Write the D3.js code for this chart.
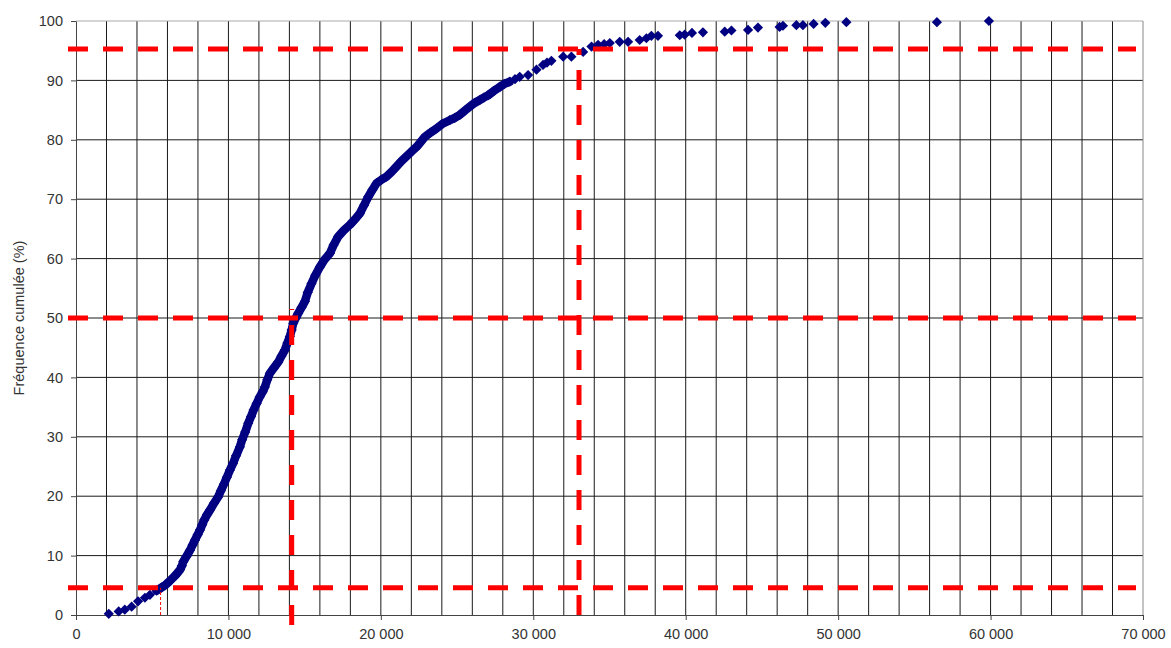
<!DOCTYPE html>
<html><head><meta charset="utf-8">
<script src="https://cdn.jsdelivr.net/npm/d3@7"></script>
<style>body{margin:0;background:#fff}svg{display:block}text{font-family:"Liberation Sans",Arial,sans-serif}</style>
</head><body>
<svg id="c" width="1171" height="648"></svg>
<script>
// Data (x = value, y = cumulative frequency %)
const xValues = [2150,2800,3200,3650,4070,4520,4850,5290,5600,5840,6100,6380,6600,6820,6950,7040,7250,7480,7650,7800,7980,8130,8280,8410,8600,8800,9050,9330,9500,9700,9900,10100,10300,10500,10750,10900,11100,11300,11480,11650,11850,12050,12250,12390,12550,12720,12980,13270,13480,13700,13870,14030,14150,14250,14420,14580,14800,15020,15200,15450,15700,16000,16300,16660,16900,17200,17550,17970,18300,18620,18900,19170,19450,19720,20050,20370,20700,21030,21350,21680,22000,22340,22600,22890,23250,23650,24050,24520,24850,25180,25500,25840,26150,26490,26750,27040,27400,27800,28100,28460,28800,29110,29660,30210,30640,30900,31190,31960,32500,33270,33820,34250,34650,35020,35670,36220,36980,37420,37750,38180,39610,39930,40410,41130,42560,43000,44090,44740,46160,46380,47260,47690,48390,49160,50540,56480,59890];
const yValues = [0.2,0.6,0.9,1.4,2.3,2.9,3.4,4.1,4.6,5.0,5.6,6.3,6.9,7.6,8.3,9.0,9.9,10.9,11.8,12.6,13.5,14.3,15.2,16.0,16.9,17.7,18.8,19.9,20.9,22.0,23.2,24.4,25.5,26.8,28.3,29.5,30.8,32.3,33.4,34.5,35.6,36.7,37.6,38.4,39.6,40.7,41.6,42.6,43.6,44.6,45.8,46.9,48.0,49.1,50.0,50.8,51.8,52.8,54.3,55.8,57.2,58.6,59.8,60.9,62.3,63.7,64.7,65.7,66.6,67.6,69.0,70.4,71.6,72.7,73.3,73.8,74.6,75.5,76.4,77.2,78.0,78.8,79.6,80.5,81.2,81.9,82.7,83.3,83.7,84.2,84.9,85.6,86.2,86.7,87.1,87.5,88.2,88.9,89.4,89.8,90.2,90.6,90.9,91.8,92.6,93.0,93.3,94.0,94.0,94.8,95.7,96.0,96.1,96.3,96.5,96.5,96.8,97.1,97.5,97.5,97.6,97.7,98.0,98.1,98.2,98.4,98.5,98.9,99.0,99.2,99.3,99.3,99.5,99.7,99.8,99.8,100];
const xTicks = [0,10000,20000,30000,40000,50000,60000,70000];
const yTicks = [0,10,20,30,40,50,60,70,80,90,100];
const refLevels = [4.6, 50, 95.3];          // horizontal dashed reference levels (%)
const refValues = [14150, 33000];          // vertical dashed reference values
const refValueTops = [51.5, 95.3];
const lowRefValue = 5550;                  // thin dashed marker at the 4.6 % level
const yLabel = "Fréquence cumulée (%)";

const svg = d3.select("#c");
const L = 76, R = 1143, T = 21, B = 615;
const x = d3.scaleLinear().domain([0,70000]).range([L,R]);
const y = d3.scaleLinear().domain([0,100]).range([B,T]);
const fmt = v => d3.format(",")(v).replace(/,/g," ");
const FS = 14.5;

// vertical gridlines every 2000
const vgrid = d3.range(2000, 70000, 2000);
svg.append("g").selectAll("line").data(vgrid).join("line")
  .attr("x1", d=>x(d)).attr("x2", d=>x(d)).attr("y1", T).attr("y2", B)
  .attr("stroke", "#1a1a1a").attr("stroke-width", 1);
// horizontal gridlines
svg.append("g").selectAll("line").data(yTicks.filter(d=>d>0 && d<100)).join("line")
  .attr("x1", L).attr("x2", R).attr("y1", d=>y(d)).attr("y2", d=>y(d))
  .attr("stroke", "#1a1a1a").attr("stroke-width", 1);
// plot border top & right
svg.append("line").attr("x1",L).attr("x2",R).attr("y1",y(100)).attr("y2",y(100)).attr("stroke","#aaa");
svg.append("line").attr("x1",R).attr("x2",R).attr("y1",T).attr("y2",B).attr("stroke","#888");

// axes
const xAxis = d3.axisBottom(x).tickValues(xTicks).tickFormat(fmt).tickSize(5).tickSizeOuter(0);
const gx = svg.append("g").attr("transform",`translate(0,${B})`).call(xAxis);
gx.select(".domain").attr("stroke","#444");
gx.selectAll(".tick line").attr("stroke","#444");
gx.selectAll("text").attr("font-size",FS).attr("fill","#333").attr("y",14).attr("dy","0.71em");

const yAxis = d3.axisLeft(y).tickValues(yTicks).tickSize(5).tickSizeOuter(0);
const gy = svg.append("g").attr("transform",`translate(${L},0)`).call(yAxis);
gy.select(".domain").attr("stroke","#444");
gy.selectAll(".tick line").attr("stroke","#444");
gy.selectAll("text").attr("font-size",FS).attr("fill","#333").attr("x",-13);

svg.append("text").attr("transform",`translate(24,${(T+B)/2}) rotate(-90)`)
  .attr("text-anchor","middle").attr("font-size",FS).attr("fill","#333").text(yLabel);

// data points: dense part renders as a continuous band of overlapping markers
const pts = xValues.map((v,i)=>[v,yValues[i]]);
const dense = pts.filter(d => d[0] >= 5000 && d[0] <= 28500);
svg.append("path").datum(dense)
  .attr("d", d3.line().x(d=>x(d[0])).y(d=>y(d[1])))
  .attr("fill","none").attr("stroke","#000080").attr("stroke-width",8.5)
  .attr("stroke-linejoin","round").attr("stroke-linecap","round");
const sym = d3.symbol(d3.symbolSquare, 52);
svg.append("g").selectAll("path").data(pts).join("path")
  .attr("d", sym).attr("transform", d=>`translate(${x(d[0])},${y(d[1])}) rotate(45)`)
  .attr("fill","#000080");

// reference dashed lines
const red = "#ff0000";
svg.append("g").selectAll("line").data(refLevels).join("line")
  .attr("x1", 68).attr("x2", 1136).attr("y1", d=>y(d)).attr("y2", d=>y(d))
  .attr("stroke", red).attr("stroke-width", 5).attr("stroke-dasharray","20,15");
svg.append("g").selectAll("line").data(refValues).join("line")
  .attr("x1", d=>x(d)).attr("x2", d=>x(d))
  .attr("y1", (d,i)=> i===0 ? B+10 : B).attr("y2", (d,i)=>y(refValueTops[i]))
  .attr("stroke", red).attr("stroke-width", 5).attr("stroke-dasharray","20,15");
svg.append("line").attr("x1",x(lowRefValue)).attr("x2",x(lowRefValue))
  .attr("y1",B).attr("y2",y(refLevels[0]))
  .attr("stroke",red).attr("stroke-width",1).attr("stroke-dasharray","3,2");
</script>
</body></html>
